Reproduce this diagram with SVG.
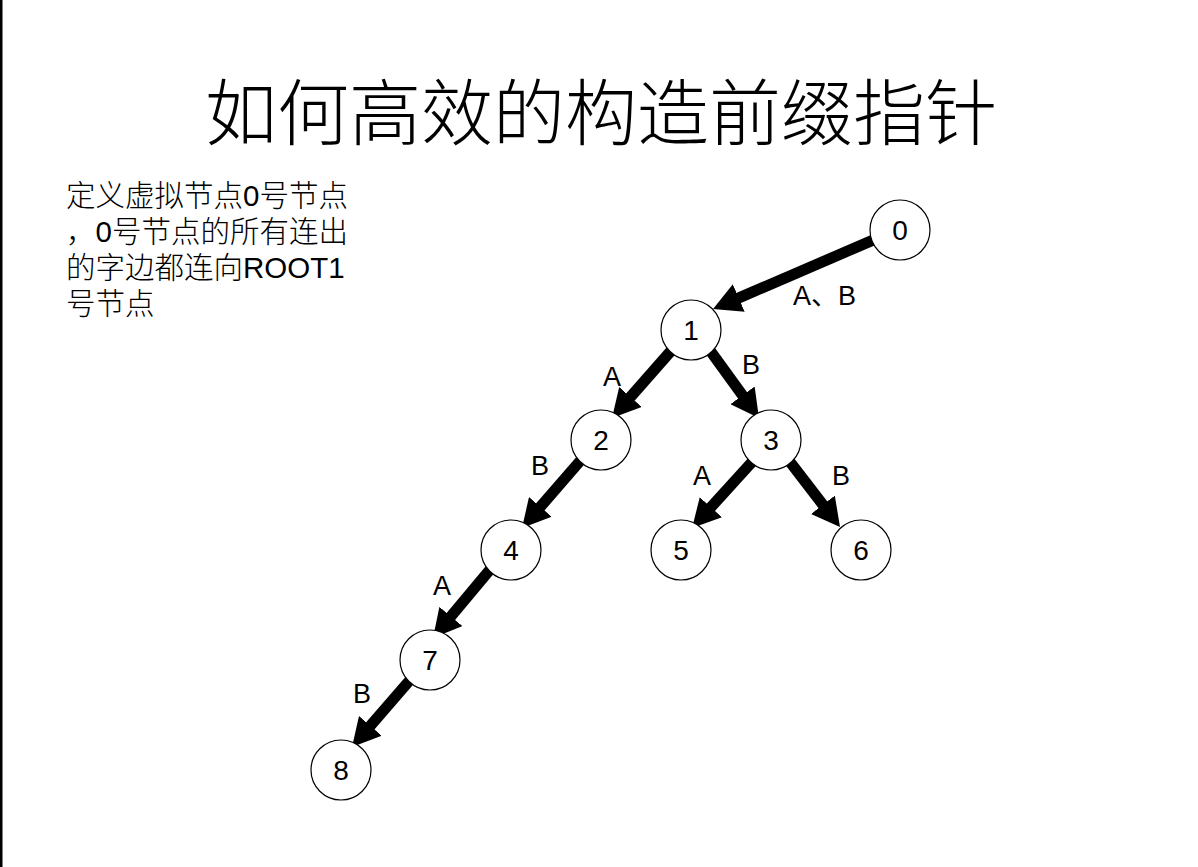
<svg xmlns="http://www.w3.org/2000/svg" width="1198" height="867" viewBox="0 0 1198 867">
<defs>
<marker id="ah" markerUnits="userSpaceOnUse" markerWidth="28" markerHeight="30" refX="8" refY="15" orient="auto">
<path d="M0,0 L28,15 L0,30 z" fill="#000"/>
</marker>
<style>
.title{font-family:"Noto Sans CJK SC","Liberation Serif",serif;font-size:72px;font-weight:300;fill:#000}
.desc{font-family:"Liberation Sans","Noto Sans CJK SC",sans-serif;font-size:29.5px;font-weight:300;fill:#000}
.node circle{fill:#fff;stroke:#000;stroke-width:1.2}
.node text{font-family:"Liberation Sans",sans-serif;font-size:28px;text-anchor:middle;fill:#000}
.edge{stroke:#000;stroke-width:11;fill:none;marker-end:url(#ah)}
.lbl{font-family:"Liberation Sans","Noto Sans CJK SC",sans-serif;font-size:27px;fill:#000}
</style>
</defs>
<rect x="0" y="0" width="1198" height="867" fill="#fff"/>
<rect x="0" y="0" width="2.5" height="867" fill="#000"/>
<text class="title" x="601" y="139" text-anchor="middle">如何高效的构造前缀指针</text>
<g id="description">
<text class="desc" x="66" y="206">定义虚拟节点0号节点</text>
<text class="desc" x="66" y="242">，0号节点的所有连出</text>
<text class="desc" x="66" y="278">的字边都连向ROOT1</text>
<text class="desc" x="66" y="314">号节点</text>
</g>
<g id="connectors">
<line class="edge" x1="876.5" y1="238.6" x2="731.4" y2="301.1"/>
<line class="edge" x1="674" y1="347.5" x2="625.2" y2="403"/>
<line class="edge" x1="707.5" y1="347.1" x2="747.2" y2="401.8"/>
<line class="edge" x1="584.9" y1="455.5" x2="535.1" y2="512.9"/>
<line class="edge" x1="756" y1="457.6" x2="705.5" y2="513.2"/>
<line class="edge" x1="786.3" y1="457.2" x2="827.8" y2="511.1"/>
<line class="edge" x1="491.8" y1="567.4" x2="445.8" y2="622.6"/>
<line class="edge" x1="413.9" y1="675.5" x2="365.1" y2="731.9"/>
<text class="lbl" x="793" y="305">A、B</text>
<text class="lbl" x="603" y="386">A</text>
<text class="lbl" x="742" y="374">B</text>
<text class="lbl" x="531" y="475">B</text>
<text class="lbl" x="693" y="485">A</text>
<text class="lbl" x="832" y="485">B</text>
<text class="lbl" x="433" y="595">A</text>
<text class="lbl" x="353" y="703">B</text>
</g>
<g id="node0" class="node"><circle cx="900" cy="230" r="30"/><text x="900" y="240">0</text></g>
<g id="node1" class="node"><circle cx="691" cy="330" r="30"/><text x="691" y="340">1</text></g>
<g id="node2" class="node"><circle cx="601" cy="440" r="30"/><text x="601" y="450">2</text></g>
<g id="node3" class="node"><circle cx="771" cy="440" r="30"/><text x="771" y="450">3</text></g>
<g id="node4" class="node"><circle cx="511" cy="550" r="30"/><text x="511" y="560">4</text></g>
<g id="node5" class="node"><circle cx="681" cy="550" r="30"/><text x="681" y="560">5</text></g>
<g id="node6" class="node"><circle cx="861" cy="550" r="30"/><text x="861" y="560">6</text></g>
<g id="node7" class="node"><circle cx="430" cy="660" r="30"/><text x="430" y="670">7</text></g>
<g id="node8" class="node"><circle cx="341" cy="770" r="30"/><text x="341" y="780">8</text></g>
</svg>
